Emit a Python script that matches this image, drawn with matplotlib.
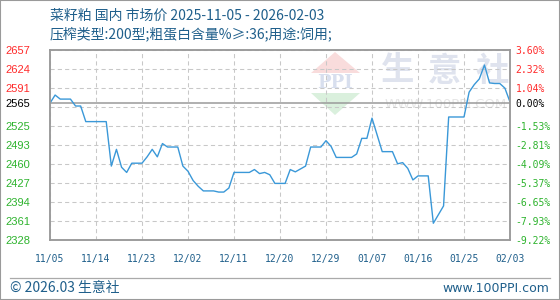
import numpy as np
import pandas as pd
import matplotlib
matplotlib.use("Agg")
import matplotlib.pyplot as plt
import matplotlib.transforms as mtransforms
from matplotlib.patches import Polygon, Rectangle

# daily price, 2025-11-05 .. 2026-02-03
dates = pd.date_range("2025-11-05", "2026-02-03", freq="D")
prices = [
    2565, 2579, 2572, 2572, 2572, 2560, 2560, 2533, 2533, 2533,
    2533, 2533, 2456, 2485, 2454, 2445, 2461, 2461, 2461, 2472,
    2485, 2472, 2495, 2489, 2489, 2489, 2456, 2447, 2431, 2421,
    2413, 2413, 2413, 2411, 2411, 2418, 2445, 2445, 2445, 2445,
    2450, 2443, 2445, 2441, 2426, 2426, 2426, 2450, 2446, 2451,
    2456, 2489, 2489, 2489, 2500, 2490, 2471, 2471, 2471, 2471,
    2477, 2504, 2504, 2539, 2510, 2481, 2481, 2481, 2460, 2462,
    2452, 2432, 2439, 2439, 2439, 2357, 2372, 2387, 2541, 2541,
    2541, 2541, 2584, 2597, 2607, 2631, 2600, 2599, 2599, 2591,
    2567,
]
base = 2565
y_min, y_max = 2328, 2657
left_labels = ["2328", "2361", "2394", "2427", "2460", "2493", "2525",
               "2558", "2591", "2624", "2657"]
right_labels = ["-9.22%", "-7.93%", "-6.65%", "-5.37%", "-4.09%", "-2.81%",
                "-1.53%", "", "1.04%", "2.32%", "3.60%"]
base_left, base_right = "2565", "0.00%"

title1 = "菜籽粕 国内 市场价 2025-11-05 - 2026-02-03"
title2 = "压榨类型:200型;粗蛋白含量%≥:36;用途:饲用;"

BLUE = "#1f5f8b"
RED = "#ff2a2a"
GREEN = "#2db32d"
GRAY = "#9a9a9a"
cjk = ["Noto Sans CJK SC", "DejaVu Sans"]

W, H = 560, 300
fig = plt.figure(figsize=(W / 100, H / 100), dpi=100)
ax = fig.add_axes([50 / W, 60 / H, 460 / W, 190 / H])

def fx(px):
    return px / W

def fy(py):
    return 1 - py / H

# watermark
wm_kw = dict(transform=fig.transFigure, zorder=0.5, clip_on=False)
ax.add_patch(Polygon([(fx(311), fy(73)), (fx(360), fy(73)), (fx(335), fy(52))],
                     closed=True, fc="#f9dcdc", ec="none", **wm_kw))
ax.add_patch(Polygon([(fx(311), fy(93)), (fx(360), fy(93)), (fx(335), fy(115))],
                     closed=True, fc="#daf0dd", ec="none", **wm_kw))
ax.text(fx(335), fy(83), "PPI", fontsize=13, fontweight="bold", color="#d8dfee",
        ha="center", va="center", family="DejaVu Serif", **wm_kw)
for ch, cx in zip("生意社", [398, 444, 492]):
    ax.text(fx(cx), fy(71), ch, fontsize=24, fontweight="bold", color="#dfe3ee",
            ha="center", va="center", family=cjk, **wm_kw)
ax.text(fx(446), fy(105), "WWW.100PPI.COM", fontsize=9.5, color="#e6e6e6",
        ha="center", va="center", **wm_kw)

# grid
grid = np.linspace(y_min, y_max, len(left_labels))
ax.hlines(grid, dates[0], dates[-1], colors="#c8c8c8", linewidth=0.75,
          linestyles=(0, (4, 3)), zorder=1)
ax.axhline(base, color=GRAY, linewidth=1.1, zorder=1.5)
ax.plot(dates, prices, color="#3a98d8", linewidth=1.0, zorder=2)

ax.set_xlim(dates[0], dates[-1])
ax.set_ylim(y_min, y_max)

xt = dates[::9]
ax.set_xticks(xt, [d.strftime("%m/%d") for d in xt])
ax.grid(axis="x", color="#c8c8c8", linewidth=0.75, linestyle=(0, (4, 3)), zorder=1)
ax.tick_params(axis="x", length=0, pad=10, labelsize=7, labelcolor=BLUE)
for lab in ax.get_xticklabels():
    lab.set_family("DejaVu Sans Mono")

shown = [i for i, v in enumerate(grid) if abs(v - base) > 10]
ticks = [grid[i] for i in shown] + [base]
ax.set_yticks(ticks, [left_labels[i] for i in shown] + [base_left])
ax.tick_params(axis="y", length=0, pad=32, labelsize=8)
for t, lab in zip(ticks, ax.get_yticklabels()):
    lab.set_ha("left")
    lab.set_family("Liberation Sans")
    lab.set_color(RED if t > base + 1 else (GREEN if t < base - 1 else "black"))

ax2 = ax.twinx()
ax2.set_ylim(y_min, y_max)
ax2.set_yticks(ticks, [right_labels[i] for i in shown] + [base_right])
ax2.tick_params(axis="y", length=0, pad=4, labelsize=7)
for t, lab in zip(ticks, ax2.get_yticklabels()):
    lab.set_family("DejaVu Sans Mono")
    lab.set_color(RED if t > base + 1 else (GREEN if t < base - 1 else "black"))

for a in (ax, ax2):
    for s in a.spines.values():
        s.set_color(GRAY)
        s.set_linewidth(1.1)

# titles and footer
fig.text(fx(50), fy(16), title1, fontsize=10, color=BLUE, va="center", family=cjk)
fig.text(fx(50), fy(34), title2, fontsize=10, color=BLUE, va="center", family=cjk)
fig.add_artist(plt.Line2D([fx(10), fx(550)], [fy(278), fy(278)],
                          color="#aaaaaa", linewidth=0.9))
fig.text(fx(10), fy(288), "© 2026.03 生意社", fontsize=10, color=BLUE,
         va="center", family=cjk)
fig.text(fx(549), fy(288), "www.100PPI.com", fontsize=9, color=BLUE,
         va="center", ha="right")
fig.add_artist(Rectangle((0, 0), 1, 1, transform=fig.transFigure, fill=False,
                         ec=GRAY, linewidth=1.5))

fig.savefig("out.png", dpi=100)
